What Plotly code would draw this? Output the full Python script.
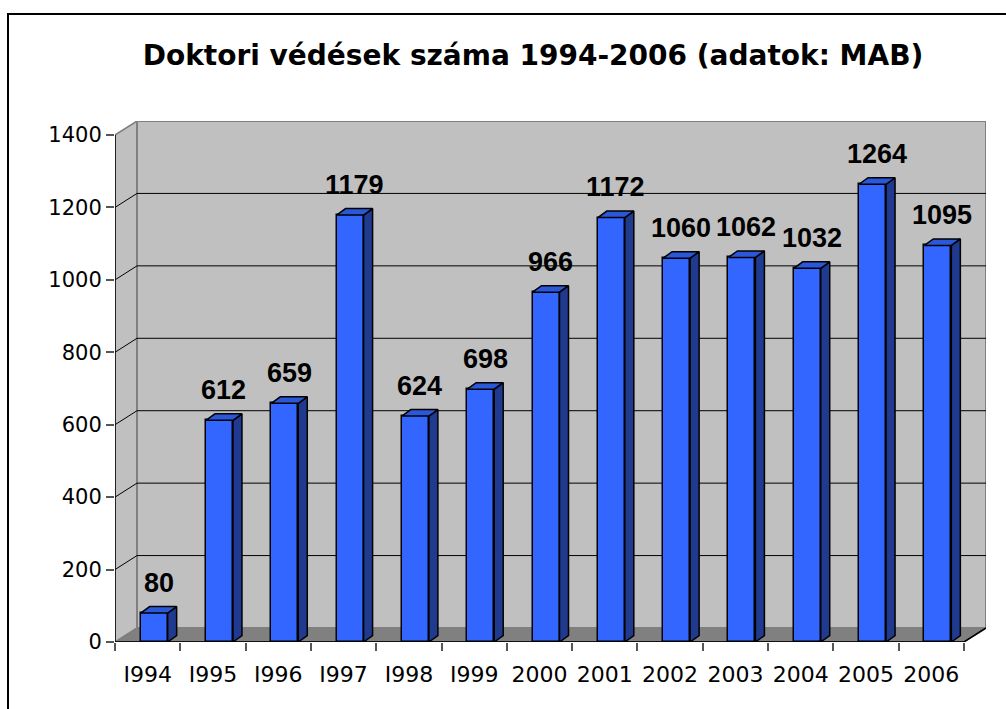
import plotly.graph_objects as go

years = ['I994', 'I995', 'I996', 'I997', 'I998', 'I999', '2000',
         '2001', '2002', '2003', '2004', '2005', '2006']
defenses = [80, 612, 659, 1179, 624, 698, 966, 1172, 1060, 1062, 1032, 1264, 1095]
y_ticks = [0, 200, 400, 600, 800, 1000, 1200, 1400]

title = 'Doktori védések száma 1994-2006 (adatok: MAB)'

# pixel geometry of the plot area
W, H = 1006, 709
L, R, T, B = 115, 20, 121, 67
px_x = (W - L - R) / 13.337          # px per category
ymax = 1400
px_y = 507 / ymax                    # px per unit on the front plane

# 3d depth of the walls and of the bars (in data units)
wall_dx = 22 / px_x
wall_dy = 14 / px_y
bar_w = 27 / px_x
bar_c = 6.5 / px_x                   # front face centre shift from category centre
bar_dx = 9 / px_x
bar_dy = 6.5 / px_y

x = list(range(len(years)))
x0, x1 = -0.5, len(years) - 0.5

ARIAL = 'Liberation Sans, Arial, sans-serif'
WIDE = 'DejaVu Sans, Verdana, sans-serif'
shapes = []

# floor, side wall, back wall
shapes.append(dict(type='path', xref='x', yref='y', layer='below',
                   path=f'M{x0},0 L{x1},0 L{x1+wall_dx},{wall_dy} L{x0+wall_dx},{wall_dy} Z',
                   fillcolor='#808080', line=dict(color='#000000', width=1)))
shapes.append(dict(type='path', xref='x', yref='y', layer='below',
                   path=f'M{x0},0 L{x0+wall_dx},{wall_dy} L{x0+wall_dx},{ymax+wall_dy} L{x0},{ymax} Z',
                   fillcolor='#c0c0c0', line=dict(color='#808080', width=1.5)))
shapes.append(dict(type='rect', xref='x', yref='y', layer='below',
                   x0=x0 + wall_dx, x1=x1 + wall_dx, y0=wall_dy, y1=ymax + wall_dy,
                   fillcolor='#c0c0c0', line=dict(color='#808080', width=2)))

for v in y_ticks[1:-1]:
    shapes.append(dict(type='line', xref='x', yref='y', layer='below',
                       x0=x0, y0=v, x1=x0 + wall_dx, y1=v + wall_dy,
                       line=dict(color='#000000', width=1)))
    shapes.append(dict(type='line', xref='x', yref='y', layer='below',
                       x0=x0 + wall_dx, y0=v + wall_dy, x1=x1 + wall_dx, y1=v + wall_dy,
                       line=dict(color='#000000', width=1)))

# front axis lines
shapes.append(dict(type='line', xref='x', yref='y', x0=x0, y0=0, x1=x0, y1=ymax,
                   line=dict(color='#000000', width=1.5)))
shapes.append(dict(type='line', xref='x', yref='y', x0=x0, y0=0, x1=x1, y1=0,
                   line=dict(color='#000000', width=1.5)))
shapes.append(dict(type='line', xref='x', yref='y', x0=x1, y0=0, x1=x1 + wall_dx, y1=wall_dy,
                   line=dict(color='#000000', width=1.5)))

# outer frame of the chart
pw, ph = W - L - R, H - T - B
shapes.append(dict(type='rect', xref='paper', yref='paper',
                   x0=(8 - L) / pw, x1=(W + 20 - L) / pw,
                   y0=(H - B - H - 20) / ph, y1=(H - B - 14) / ph,
                   line=dict(color='#000000', width=2), fillcolor='rgba(0,0,0,0)'))

fig = go.Figure()

# front faces
fig.add_trace(go.Bar(x=x, y=defenses, width=bar_w, offset=bar_c - bar_w / 2,
                     marker=dict(color='#3366ff', line=dict(color='#000000', width=1.5)),
                     showlegend=False, hoverinfo='skip'))

# side and top faces
side_x, side_y, top_x, top_y = [], [], [], []
for i, v in zip(x, defenses):
    lx = i + bar_c - bar_w / 2
    rx = i + bar_c + bar_w / 2
    side_x += [rx, rx + bar_dx, rx + bar_dx, rx, rx, None]
    side_y += [0, bar_dy, v + bar_dy, v, 0, None]
    top_x += [lx, rx, rx + bar_dx, lx + bar_dx, lx, None]
    top_y += [v, v, v + bar_dy, v + bar_dy, v, None]

fig.add_trace(go.Scatter(x=side_x, y=side_y, mode='lines', fill='toself',
                         fillcolor='#1f3a8f', line=dict(color='#000000', width=1.5),
                         showlegend=False, hoverinfo='skip'))
fig.add_trace(go.Scatter(x=top_x, y=top_y, mode='lines', fill='toself',
                         fillcolor='#2b58d8', line=dict(color='#000000', width=1.5),
                         showlegend=False, hoverinfo='skip'))

annotations = []
for i, v in zip(x, defenses):
    annotations.append(dict(x=i + bar_c + bar_dx / 2, y=v + bar_dy, text=str(v),
                            showarrow=False, yanchor='bottom', yshift=7,
                            font=dict(family=ARIAL, size=27, color='#000000', weight='bold')))

fig.update_layout(
    width=W, height=H,
    margin=dict(l=L, r=R, t=T, b=B),
    paper_bgcolor='#ffffff', plot_bgcolor='#ffffff',
    title=dict(text=title, x=533 / W, xref='container', xanchor='center',
               y=1 - 55 / H, yref='container', yanchor='middle',
               font=dict(family=WIDE, size=28, color='#000000', weight='bold')),
    shapes=shapes, annotations=annotations,
    bargap=0,
)
fig.update_xaxes(range=[x0, x1 + wall_dx], tickvals=x, ticktext=years,
                 ticks='outside', ticklen=8, tickcolor='rgba(0,0,0,0)',
                 ticklabelstandoff=5,
                 minor=dict(ticks='outside', ticklen=8, tick0=-0.5, dtick=1,
                            tickcolor='#555555', tickwidth=1.5, showgrid=False),
                 showgrid=False, zeroline=False, showline=False,
                 tickfont=dict(family=WIDE, size=22, color='#000000'), fixedrange=True)
fig.update_yaxes(range=[0, ymax + wall_dy], tickvals=y_ticks,
                 ticks='outside', ticklen=8, tickcolor='#555555', tickwidth=1.5,
                 showgrid=False, zeroline=False, showline=False,
                 tickfont=dict(family=WIDE, size=21, color='#000000'), fixedrange=True)

fig.write_html('out.html', config={'displayModeBar': False},
               post_script="document.body.style.margin='0';document.body.style.overflow='hidden';")
